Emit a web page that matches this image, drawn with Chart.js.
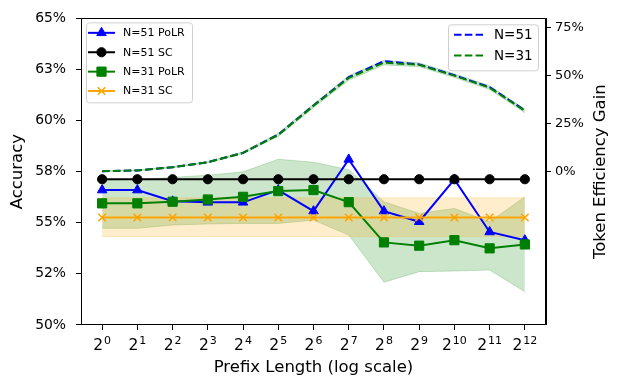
<!DOCTYPE html>
<html>
<head>
<meta charset="utf-8">
<script src="https://cdn.jsdelivr.net/npm/chart.js@4.4.0/dist/chart.umd.min.js"></script>
<style>
html, body { margin: 0; padding: 0; background: #fff; }
#wrap { width: 618px; height: 388px; }
</style>
</head>
<body>
<div id="wrap"><canvas id="chart" width="618" height="388"></canvas></div>
<script>
// x positions are log2 of prefix length
var exponents = [0, 1, 2, 3, 4, 5, 6, 7, 8, 9, 10, 11, 12];
var tick_base = '2';

// accuracy (%)
var polr51 = [56.6, 56.6, 56.05, 56.0, 56.0, 56.6, 55.57, 58.1, 55.57, 55.05, 57.12, 54.55, 54.15];
var sc51 = [57.13, 57.13, 57.13, 57.13, 57.13, 57.13, 57.13, 57.13, 57.13, 57.13, 57.13, 57.13, 57.13];
var polr31 = [55.95, 55.95, 56.03, 56.14, 56.27, 56.55, 56.6, 56.01, 54.04, 53.88, 54.15, 53.75, 53.94];
var polr31_hi = [57.09, 57.12, 57.22, 57.33, 57.49, 58.11, 57.96, 57.6, 56.03, 55.46, 55.7, 55.05, 56.27];
var polr31_lo = [54.73, 54.73, 54.89, 54.94, 54.97, 54.97, 55.13, 54.4, 52.09, 52.61, 52.64, 52.69, 51.63];
var sc31 = [55.26, 55.26, 55.26, 55.26, 55.26, 55.26, 55.26, 55.26, 55.26, 55.26, 55.26, 55.26, 55.26];
var sc31_hi = [56.22, 56.22, 56.22, 56.22, 56.22, 56.22, 56.22, 56.22, 56.22, 56.22, 56.22, 56.22, 56.22];
var sc31_lo = [54.32, 54.32, 54.32, 54.32, 54.32, 54.32, 54.32, 54.32, 54.32, 54.32, 54.32, 54.32, 54.32];

// token efficiency gain (%)
var gain51 = [0, 0.4, 2.1, 4.7, 9.6, 19.2, 34.4, 49.2, 57.6, 55.9, 50.2, 44.0, 31.8];
var gain31 = [0, 0.4, 2.1, 4.7, 9.6, 19.0, 34.2, 48.8, 56.8, 55.7, 50.0, 43.7, 31.6];
var gain31_hi = [0.2, 0.6, 2.4, 5.1, 10.1, 19.8, 35.2, 50.0, 58.0, 56.7, 51.0, 44.7, 32.6];
var gain31_lo = [-0.2, 0.2, 1.8, 4.3, 9.1, 18.2, 33.2, 47.6, 55.6, 54.7, 49.0, 42.7, 30.6];

var acc_ticks = [50, 52.5, 55, 57.5, 60, 62.5, 65];
var acc_tick_labels = ['50%', '52%', '55%', '58%', '60%', '63%', '65%'];
var gain_ticks = [0, 25, 50, 75];

function pts(vals) {
    return vals.map((v, i) => ({x: exponents[i], y: v}));
}

Chart.defaults.font.family = "'DejaVu Sans', sans-serif";
Chart.defaults.color = '#000';

function line(label, vals, color, style, radius, order) {
    return {
        label: label, data: pts(vals), yAxisID: 'y', order: order,
        borderColor: color, backgroundColor: color, borderWidth: 2,
        pointStyle: style, pointRadius: radius, pointHoverRadius: radius,
        pointBackgroundColor: color, pointBorderColor: color,
        pointBorderWidth: style == 'crossRot' ? 1.6 : 1, fill: false, tension: 0
    };
}

function band(vals, axis, edge, fillc, fill, order) {
    return {
        label: '', data: pts(vals), yAxisID: axis, order: order,
        borderColor: edge, borderWidth: 1, pointRadius: 0, pointHoverRadius: 0,
        backgroundColor: fillc, fill: fill, tension: 0
    };
}

function dashed(label, vals, color, order) {
    return {
        label: label, data: pts(vals), yAxisID: 'y2', order: order,
        borderColor: color, backgroundColor: color, borderWidth: 2,
        borderDash: [7.5, 3.3], pointRadius: 0, pointHoverRadius: 0, fill: false, tension: 0
    };
}

var datasets = [
    band(polr31_hi, 'y', 'rgba(0,128,0,0.2)', 'rgba(0,128,0,0.2)', false, 20),
    band(polr31_lo, 'y', 'rgba(0,128,0,0.2)', 'rgba(0,128,0,0.2)', '-1', 20),
    band(sc31_hi, 'y', 'rgba(255,165,0,0.2)', 'rgba(255,165,0,0.2)', false, 19),
    band(sc31_lo, 'y', 'rgba(255,165,0,0.2)', 'rgba(255,165,0,0.2)', '-1', 19),
    line('N=51 PoLR', polr51, '#0000ff', 'triangle', 5.5, 9),
    line('N=51 SC', sc51, '#000000', 'circle', 4.6, 8),
    line('N=31 PoLR', polr31, '#008000', 'rect', 6.5, 7),
    line('N=31 SC', sc31, '#ffa500', 'crossRot', 5.3, 6),
    band(gain31_hi, 'y2', 'rgba(0,128,0,0.2)', 'rgba(0,128,0,0.2)', false, 5),
    band(gain31_lo, 'y2', 'rgba(0,128,0,0.2)', 'rgba(0,128,0,0.2)', '-1', 5),
    dashed('N=51', gain51, '#0000ff', 4),
    dashed('N=31', gain31, '#008000', 3)
];

function draw_legend(chart, ctx, x, y, w, h, rows, fsize, rowgap, lineLen, dash) {
    ctx.save();
    ctx.fillStyle = 'rgba(255,255,255,0.8)';
    ctx.strokeStyle = '#d0d0d0';
    ctx.lineWidth = 1;
    ctx.beginPath();
    ctx.roundRect(x + 0.5, y + 0.5, w, h, 3);
    ctx.fill();
    ctx.stroke();
    ctx.font = fsize + "px 'DejaVu Sans'";
    ctx.textBaseline = 'middle';
    rows.forEach((idx, k) => {
        var ds = chart.data.datasets[idx];
        var ry = y + 10.5 + k * rowgap;
        var lx = x + 2 + (dash ? 4 : 0);
        ctx.strokeStyle = ds.borderColor;
        ctx.lineWidth = 2;
        ctx.setLineDash(dash ? [7.5, 3.3] : []);
        ctx.beginPath();
        ctx.moveTo(lx, ry);
        ctx.lineTo(lx + lineLen, ry);
        ctx.stroke();
        ctx.setLineDash([]);
        if (!dash) {
            ctx.fillStyle = ds.pointBackgroundColor;
            ctx.strokeStyle = ds.pointBorderColor;
            ctx.lineWidth = ds.pointBorderWidth;
            Chart.helpers.drawPoint(ctx, {pointStyle: ds.pointStyle, radius: ds.pointRadius, rotation: 0, borderWidth: ds.pointBorderWidth}, lx + lineLen / 2, ry);
        }
        ctx.fillStyle = '#000';
        ctx.fillText(ds.label, lx + lineLen + (dash ? 11 : 8), ry + 0.5);
    });
    ctx.restore();
}

var frame_and_legends = {
    id: 'frame_and_legends',
    afterDraw(chart) {
        var ctx = chart.ctx, a = chart.chartArea;
        ctx.save();
        ctx.strokeStyle = '#000';
        ctx.lineWidth = 1;
        ctx.strokeRect(Math.round(a.left) + 0.5, Math.round(a.top) + 0.5, Math.round(a.right - a.left) - 1, Math.round(a.bottom - a.top) - 1);

        // x tick labels as 2 with a raised exponent
        var xs = chart.scales.x;
        ctx.fillStyle = '#000';
        ctx.textBaseline = 'alphabetic';
        exponents.forEach(e => {
            var px = xs.getPixelForValue(e);
            ctx.font = "15.5px 'DejaVu Sans'";
            var wb = ctx.measureText(tick_base).width;
            ctx.font = "11px 'DejaVu Sans'";
            var we = ctx.measureText(String(e)).width;
            var x0 = px - (wb + we + 1) / 2;
            ctx.font = "15.5px 'DejaVu Sans'";
            ctx.textAlign = 'left';
            ctx.fillText(tick_base, x0, a.bottom + 25);
            ctx.font = "11px 'DejaVu Sans'";
            ctx.fillText(String(e), x0 + wb + 1, a.bottom + 19);
        });

        // right axis title reads bottom to top
        ctx.translate(600.5, (a.top + a.bottom) / 2);
        ctx.rotate(-Math.PI / 2);
        ctx.font = "16.5px 'DejaVu Sans'";
        ctx.textAlign = 'center';
        ctx.textBaseline = 'middle';
        ctx.fillText('Token Efficiency Gain', 0, 0);
        ctx.restore();

        draw_legend(chart, ctx, a.left + 5, a.top + 4, 106, 80, [4, 5, 6, 7], 11, 19.4, 27, false);
        draw_legend(chart, ctx, a.right - 98, a.top + 6, 90, 46, [10, 11], 13.5, 20.7, 29, true);
    }
};

new Chart(document.getElementById('chart'), {
    type: 'line',
    data: { datasets: datasets },
    plugins: [frame_and_legends],
    options: {
        responsive: false,
        animation: false,
        devicePixelRatio: 1,
        layout: { padding: { top: 18, left: 0, right: 0, bottom: 0 } },
        plugins: { legend: { display: false }, tooltip: { enabled: false } },
        scales: {
            x: {
                type: 'linear', min: -0.6, max: 12.6,
                afterBuildTicks: s => { s.ticks = exponents.map(v => ({value: v})); },
                afterFit: s => { s.height = 63; },
                ticks: { callback: v => '', font: { size: 15 }, padding: 2, maxRotation: 0, autoSkip: false },
                grid: { drawOnChartArea: false, tickLength: 5, color: '#000' },
                border: { color: '#000' },
                title: { display: true, text: 'Prefix Length (log scale)', font: { size: 16.5 }, padding: { top: 2, bottom: 10 } }
            },
            y: {
                position: 'left', min: 50, max: 65,
                afterBuildTicks: s => { s.ticks = acc_ticks.map(v => ({value: v})); },
                afterFit: s => { s.width = 81; },
                ticks: {
                    font: { size: 13.9 }, padding: 10,
                    callback: v => acc_tick_labels[acc_ticks.indexOf(v)]
                },
                grid: { drawOnChartArea: false, tickLength: 5, color: '#000' },
                border: { color: '#000' },
                title: { display: true, text: 'Accuracy', font: { size: 16.5 }, padding: { top: 8, bottom: 4 } }
            },
            y2: {
                position: 'right', min: -80.5, max: 80,
                afterBuildTicks: s => { s.ticks = gain_ticks.map(v => ({value: v})); },
                afterFit: s => { s.width = 72; },
                ticks: { font: { size: 13 }, padding: 4, callback: v => v + '%' },
                grid: { drawOnChartArea: false, tickLength: 5, color: '#000' },
                border: { color: '#000' },
                title: { display: false }
            }
        }
    }
});
</script>
</body>
</html>
